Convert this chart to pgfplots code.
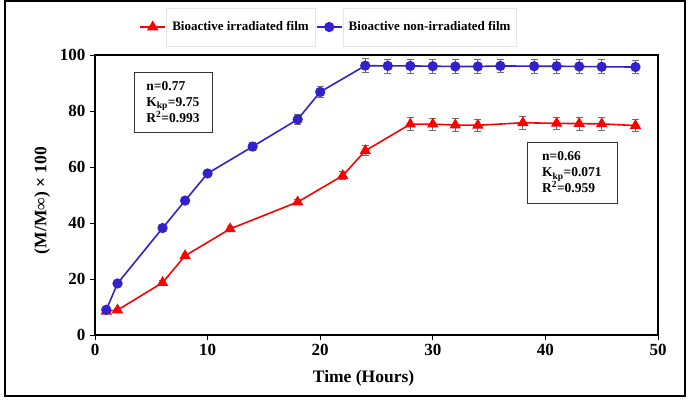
\documentclass[border=0pt]{standalone}
\usepackage{fontspec}
\setmainfont{Liberation Serif}
\usepackage{pgfplots}
\pgfplotsset{compat=1.18}
\usepackage{pgfplotstable}

\definecolor{nonirr}{RGB}{51,34,204}
\definecolor{irr}{RGB}{255,0,0}
\definecolor{errgray}{RGB}{110,110,110}

% time (h), release (%), error
\pgfplotstableread{
t    y     e
1    8.5   0.6
2    8.9   0.6
6    18.7  0.8
8    28.3  0.8
12   37.9  0.8
18   47.5  0.8
22   56.9  1.5
24   65.8  1.8
28   75.3  2.4
30   75.3  2.2
32   75.0  2.2
34   74.9  2.2
38   75.8  2.2
41   75.6  2.2
43   75.5  2.3
45   75.4  2.2
48   74.8  2.2
}\irradiated

\pgfplotstableread{
t    y     e
1    9.0   0.5
2    18.4  0.6
6    38.2  0.6
8    48.0  0.8
10   57.7  0.9
14   67.3  1.5
18   77.0  1.8
20   86.8  2.0
24   96.2  2.5
26   96.1  2.5
28   96.1  2.5
30   96.0  2.5
32   95.9  2.5
34   95.9  2.5
36   96.1  2.3
39   96.0  2.5
41   96.0  2.5
43   95.9  2.5
45   95.8  2.5
48   95.7  2.3
}\nonirradiated

\begin{document}
\begin{tikzpicture}
\useasboundingbox (-95pt,-67pt) rectangle (598pt,335pt);
\begin{axis}[
  at={(0,0)}, anchor=south west,
  scale only axis, width=563pt, height=280pt,
  xmin=0, xmax=50, ymin=0, ymax=100,
  xtick={0,10,...,50}, ytick={0,20,...,100},
  tick align=outside, major tick length=5pt,
  tick style={black, line width=0.9pt},
  axis line style={line width=1.2pt},
  xtick pos=bottom, ytick pos=left,
  /pgf/number format/assume math mode=true,
  tick label style={font=\fontsize{17}{19}\selectfont\bfseries},
  xticklabel style={yshift=-1pt},
  yticklabel style={xshift=-1pt},
  xlabel={\textbf{Time (Hours)}},
  ylabel={\textbf{(M/M∞) × 100}},
  label style={font=\fontsize{17.5}{20}\selectfont},
  xlabel style={at={(axis description cs:0.477,0)}, anchor=center, yshift=-43pt},
  ylabel style={at={(axis description cs:-0.094,0.48)}, anchor=center, rotate=0},
  legend columns=2,
  legend style={at={(axis description cs:0.414,1.1)}, anchor=center,
    draw=none, fill=none,
    nodes={draw=gray!20, fill=white, inner xsep=6pt, minimum height=38pt,
           font=\fontsize{13}{15}\selectfont\bfseries},
    /tikz/every even column/.append style={column sep=1pt}},
  legend image code/.code={
    \draw[#1] (0pt,0pt) -- (25pt,0pt);
    \draw[#1, mark repeat=1] plot coordinates {(12.5pt,0pt)};
  },
]
\addplot[irr, line width=1.6pt, mark=triangle*, mark size=5pt,
  mark options={solid, fill=irr, draw=irr},
  error bars/.cd, y dir=both, y explicit,
  error bar style={errgray, line width=0.8pt},
  error mark options={rotate=90, mark size=3.5pt, errgray, line width=0.8pt}]
  table[x=t, y=y, y error=e] {\irradiated};
\addlegendentry{Bioactive irradiated film}

\addplot[nonirr, line width=1.6pt, mark=*, mark size=4.3pt,
  mark options={solid, fill=nonirr, draw=nonirr},
  error bars/.cd, y dir=both, y explicit,
  error bar style={errgray, line width=0.8pt},
  error mark options={rotate=90, mark size=3.5pt, errgray, line width=0.8pt}]
  table[x=t, y=y, y error=e] {\nonirradiated};
\addlegendentry{Bioactive non-irradiated film}

\node[draw=black!80, line width=0.6pt, fill=white, align=left,
  font=\fontsize{13.5}{16}\selectfont\bfseries,
  minimum width=78pt, minimum height=60pt, inner xsep=8pt]
  at (axis description cs:0.1385,0.832)
  {n=0.77\\K\textsubscript{kp}=9.75\\R\textsuperscript{2}=0.993};
\node[draw=black!80, line width=0.6pt, fill=white, align=left,
  font=\fontsize{13.5}{16}\selectfont\bfseries,
  minimum width=90pt, minimum height=61pt, inner xsep=8pt]
  at (axis description cs:0.847,0.580)
  {n=0.66\\K\textsubscript{kp}=0.071\\R\textsuperscript{2}=0.959};
\end{axis}
% outer frame
\draw[black, line width=1.3pt] (-90pt,-61pt) rectangle (590pt,334pt);
\end{tikzpicture}
\end{document}
